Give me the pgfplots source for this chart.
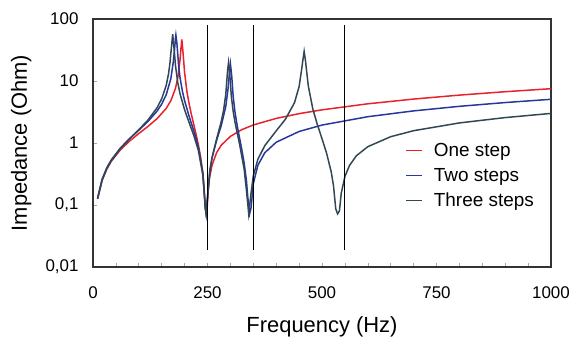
\documentclass[border=0pt]{standalone}
\usepackage{fontspec}
\setmainfont{Liberation Sans}
\usepackage{pgfplots}
\pgfplotsset{compat=1.18}
\definecolor{cred}{RGB}{232,33,45}
\definecolor{cblue}{RGB}{40,55,155}
\definecolor{cdark}{RGB}{48,72,84}
\begin{document}
\begin{tikzpicture}
\useasboundingbox (-93bp,-73bp) rectangle (482bp,267bp);
\begin{axis}[
  scale only axis, width=458bp, height=248bp,
  xmin=0, xmax=1000, ymode=log, ymin=0.01, ymax=100,
  xtick={0,250,500,750,1000}, xticklabels={0,250,500,750,1000},
  minor xtick={50,100,...,950},
  ytick={0.01,0.1,1,10,100}, yticklabels={{0,01},{0,1},1,10,100},
  yminorticks=false,
  tick pos=left, tick align=inside,
  major tick length=4bp, minor tick length=4bp,
  tick style={black!35, line width=0.6pt},
  axis line style={black!80, line width=1.1pt},
  tick label style={font=\fontsize{17}{20}\selectfont},
  xticklabel style={yshift=-16bp},
  yticklabel style={xshift=-11bp},
  xlabel={Frequency (Hz)}, ylabel={Impedance (Ohm)},
  label style={font=\fontsize{22}{26}\selectfont},
  xlabel style={at={(axis description cs:0.5,-0.242)}, anchor=center},
  ylabel style={at={(axis description cs:-0.157,0.5)}, anchor=center},
  legend style={at={(axis description cs:0.675,0.516)}, anchor=north west, draw=none, fill=none, font=\fontsize{19}{23}\selectfont, row sep=6.3bp},
  legend cell align=left,
  legend image code/.code={\draw[#1, line width=1.6pt] (0bp,0bp) -- (16bp,0bp); \path (25bp,0bp);},
]
\addplot[cred, line width=1.5pt] coordinates {
(10,0.125)(20,0.251)(30,0.378)(40,0.508)(60,0.779)(80,1.077)(100,1.421)(120,1.853)(140,2.475)(160,3.624)(170,4.811)(180,7.573)(185,11.19)(188,16.2)(190,22)(192,33)(194,47)(196,32)(198,21.2)(200,13.69)(205,6.83)(210,4.23)(215,2.85)(220,1.984)(225,1.385)(230,0.941)(235,0.595)(240,0.316)(243,0.171)(245,0.095)(247,0.072)(249,0.085)(252,0.187)(255,0.288)(260,0.440)(270,0.701)(280,0.920)(300,1.279)(325,1.642)(350,1.953)(400,2.492)(450,2.974)(500,3.426)(600,4.285)(700,5.111)(800,5.921)(900,6.72)(1000,7.513)
};
\addlegendentry{One step}
\addplot[cblue, line width=1.5pt] coordinates {
(10,0.130)(20,0.262)(30,0.397)(40,0.535)(60,0.834)(80,1.179)(100,1.612)(120,2.223)(140,3.278)(150,4.238)(160,6.039)(170,10.96)(175,19.5)(178,32)(180,48)(181,55)(183,42)(184,34)(187,17.7)(190,11.44)(195,6.96)(200,4.81)(210,2.675)(220,1.573)(230,0.860)(240,0.325)(245,0.095)(247,0.072)(250,0.134)(255,0.355)(260,0.583)(270,1.109)(280,1.908)(290,3.909)(295,7.66)(298,14)(300,19)(302,14)(303,11.8)(306,5.66)(310,3.16)(315,1.874)(320,1.202)(325,0.777)(330,0.477)(335,0.248)(338,0.133)(342,0.072)(345,0.089)(350,0.220)(360,0.438)(375,0.696)(400,1.029)(450,1.534)(500,1.946)(600,2.655)(700,3.295)(800,3.903)(900,4.491)(1000,5.068)
};
\addlegendentry{Two steps}
\addplot[cdark, line width=1.5pt] coordinates {
(10,0.126)(20,0.253)(30,0.384)(40,0.520)(60,0.817)(80,1.171)(100,1.637)(120,2.342)(140,3.714)(150,5.168)(160,8.594)(165,13.1)(168,19.4)(170,28)(172,40)(174,57)(176,40)(178,27.4)(180,18.05)(185,9.47)(190,6.23)(200,3.432)(210,2.126)(220,1.332)(230,0.763)(240,0.299)(245,0.09)(247,0.072)(250,0.128)(255,0.347)(260,0.582)(270,1.170)(280,2.216)(285,3.326)(290,6.143)(293,12.2)(294,15)(296,20)(298,15)(299,11.8)(302,5.73)(306,3.26)(310,2.171)(320,0.958)(330,0.379)(335,0.174)(340,0.072)(345,0.154)(350,0.294)(360,0.547)(375,0.904)(400,1.570)(420,2.407)(440,4.478)(450,8.12)(455,14.4)(458,21)(461,30)(464,21)(465,18)(470,8.41)(480,3.522)(490,1.964)(500,1.175)(510,0.686)(520,0.345)(525,0.208)(530,0.087)(534,0.072)(538,0.080)(542,0.154)(550,0.288)(560,0.433)(575,0.622)(600,0.872)(650,1.264)(700,1.579)(800,2.107)(900,2.570)(1000,2.999)
};
\addlegendentry{Three steps}
\addplot[black, line width=1pt, forget plot] coordinates {(250,0.019) (250,80)};
\addplot[black, line width=1pt, forget plot] coordinates {(350,0.019) (350,80)};
\addplot[black, line width=1pt, forget plot] coordinates {(550,0.019) (550,80)};
\end{axis}
\end{tikzpicture}
\end{document}
